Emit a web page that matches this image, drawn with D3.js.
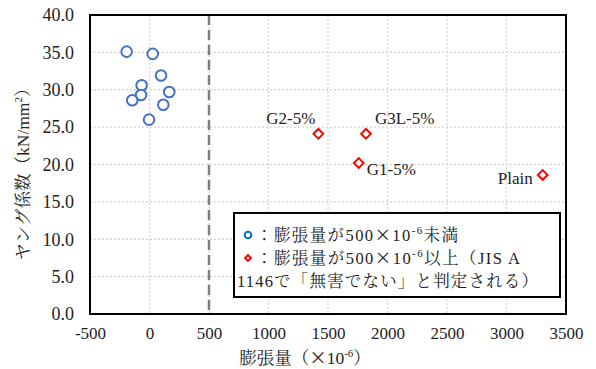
<!DOCTYPE html>
<html>
<head>
<meta charset="utf-8">
<script src="https://cdn.jsdelivr.net/npm/d3@7"></script>
<style>
  html, body { margin: 0; padding: 0; background: #fff; }
  svg { display: block; }
  text { font-family: "Liberation Serif", "Times New Roman", "Noto Serif CJK JP", "Noto Sans CJK JP", serif; fill: #222; }
  .cjk { font-family: "Noto Sans CJK JP", sans-serif; }
</style>
</head>
<body>
<svg id="chart" width="596" height="369"></svg>
<script>
// Expansion (×10^-6) and Young's modulus (kN/mm²)
const lowExpansion = [-192, 27, 97, -66, 166, -71, -145, 116, -4];
const lowModulus   = [35.1, 34.8, 31.9, 30.6, 29.7, 29.3, 28.6, 28.0, 26.0];

const highNames     = ["G2-5%", "G3L-5%", "G1-5%", "Plain"];
const highExpansion = [1419, 1819, 1758, 3304];
const highModulus   = [24.1, 24.1, 20.2, 18.6];

const xTicks = [-500, 0, 500, 1000, 1500, 2000, 2500, 3000, 3500];
const yTicks = [0, 5, 10, 15, 20, 25, 30, 35, 40];
const limitValue = 500;

const svg = d3.select("#chart");
const L = 90, R = 566, T = 15, B = 314;

const x = d3.scaleLinear().domain([-500, 3500]).range([L, R]);
const y = d3.scaleLinear().domain([0, 40]).range([B, T]);

// grid
const grid = svg.append("g");
grid.selectAll("line.gx").data(xTicks.slice(1, -1)).join("line")
  .attr("x1", d => x(d)).attr("x2", d => x(d)).attr("y1", T).attr("y2", B)
  .attr("stroke", "#d4d4d4").attr("stroke-width", 1.3).attr("stroke-dasharray", "2,2");
grid.selectAll("line.gy").data(yTicks.slice(1, -1)).join("line")
  .attr("x1", L).attr("x2", R).attr("y1", d => y(d)).attr("y2", d => y(d))
  .attr("stroke", "#d4d4d4").attr("stroke-width", 1.3).attr("stroke-dasharray", "2,2");

// 500×10^-6 limit
svg.append("line")
  .attr("x1", x(limitValue)).attr("x2", x(limitValue)).attr("y1", T).attr("y2", B)
  .attr("stroke", "#808080").attr("stroke-width", 2.5).attr("stroke-dasharray", "10,5");

// axes (labels only)
const xAxis = d3.axisBottom(x).tickValues(xTicks).tickSize(0).tickPadding(13).tickFormat(d => String(d));
const gx = svg.append("g").attr("transform", `translate(0,${B})`).call(xAxis);
gx.select(".domain").remove();
gx.selectAll("text").attr("font-size", 17).attr("fill", "#222");

const yAxis = d3.axisLeft(y).tickValues(yTicks).tickSize(0).tickPadding(16).tickFormat(d3.format(".1f"));
const gy = svg.append("g").attr("transform", `translate(${L},0)`).call(yAxis);
gy.select(".domain").remove();
gy.selectAll("text").attr("font-size", 18).attr("fill", "#222");

// frame
svg.append("rect").attr("x", L).attr("y", T).attr("width", R - L).attr("height", B - T)
  .attr("fill", "none").attr("stroke", "#000").attr("stroke-width", 2);

// low-expansion points
svg.append("g").selectAll("circle").data(lowExpansion.map((v, i) => [v, lowModulus[i]])).join("circle")
  .attr("cx", d => x(d[0])).attr("cy", d => y(d[1])).attr("r", 5.3)
  .attr("fill", "#fff").attr("stroke", "#4472C4").attr("stroke-width", 2);

// high-expansion points
const diamond = d3.symbol().type(d3.symbolDiamond2).size(60);
const hi = highNames.map((n, i) => ({ n, v: highExpansion[i], m: highModulus[i] }));
svg.append("g").selectAll("path").data(hi).join("path")
  .attr("d", diamond)
  .attr("transform", d => `translate(${x(d.v)},${y(d.m)})`)
  .attr("fill", "#fff").attr("stroke", "#FF0000").attr("stroke-width", 2);

const labelPos = {
  "G2-5%":  { dx: -3, dy: -10, anchor: "end" },
  "G3L-5%": { dx: 9,  dy: -10, anchor: "start" },
  "G1-5%":  { dx: 8,  dy: 12,  anchor: "start" },
  "Plain":  { dx: -10, dy: 9,  anchor: "end" }
};
svg.append("g").selectAll("text").data(hi).join("text")
  .attr("x", d => x(d.v) + labelPos[d.n].dx)
  .attr("y", d => y(d.m) + labelPos[d.n].dy)
  .attr("text-anchor", d => labelPos[d.n].anchor)
  .attr("font-size", 17)
  .text(d => d.n);

// legend
const lg = svg.append("g");
lg.append("rect").attr("x", 234).attr("y", 213).attr("width", 326).attr("height", 84)
  .attr("fill", "#fff").attr("stroke", "#000").attr("stroke-width", 2);
lg.append("circle").attr("cx", 248).attr("cy", 235).attr("r", 3.3)
  .attr("fill", "#fff").attr("stroke", "#0070C0").attr("stroke-width", 2);
lg.append("path").attr("d", d3.symbol().type(d3.symbolDiamond2).size(22))
  .attr("transform", "translate(248,258)")
  .attr("fill", "#fff").attr("stroke", "#FF0000").attr("stroke-width", 2);

// text built from parts; "sup" raises, "cjk" forces full-width glyphs
function richText(parent, parts) {
  parts.forEach(p => {
    const s = parent.append("tspan").text(p.t);
    if (p.sup) s.attr("font-size", 11).attr("dy", -7);
    if (p.down) s.attr("dy", 7);
    if (p.cjk) s.attr("class", "cjk");
  });
  return parent;
}
// each legend line is spread to fill its width in the box
function legendLine(xp, yp, width, parts) {
  richText(lg.append("text").attr("x", xp).attr("y", yp).attr("font-size", 16.5)
    .attr("textLength", width).attr("lengthAdjust", "spacing"), parts);
}
legendLine(256, 241, 202, [{ t: "：膨張量が500" }, { t: "×", cjk: true }, { t: "10" }, { t: "-6", sup: true }, { t: "未満", down: true }]);
legendLine(256, 264, 264, [{ t: "：膨張量が500" }, { t: "×", cjk: true }, { t: "10" }, { t: "-6", sup: true }, { t: "以上（JIS A", down: true }]);
legendLine(237, 287, 301, [{ t: "1146で「無害でない」と判定される）" }]);

// axis titles
richText(svg.append("text").attr("x", 305).attr("y", 364).attr("text-anchor", "middle").attr("font-size", 17.5),
  [{ t: "膨張量（" }, { t: "×", cjk: true }, { t: "10" }, { t: "-6", sup: true }, { t: "）", down: true }]);

richText(svg.append("text").attr("transform", "translate(29,170) rotate(-90)")
  .attr("text-anchor", "middle").attr("font-size", 17.5),
  [{ t: "ヤング係数（kN/mm" }, { t: "2", sup: true }, { t: "）", down: true }]);
</script>
</body>
</html>
